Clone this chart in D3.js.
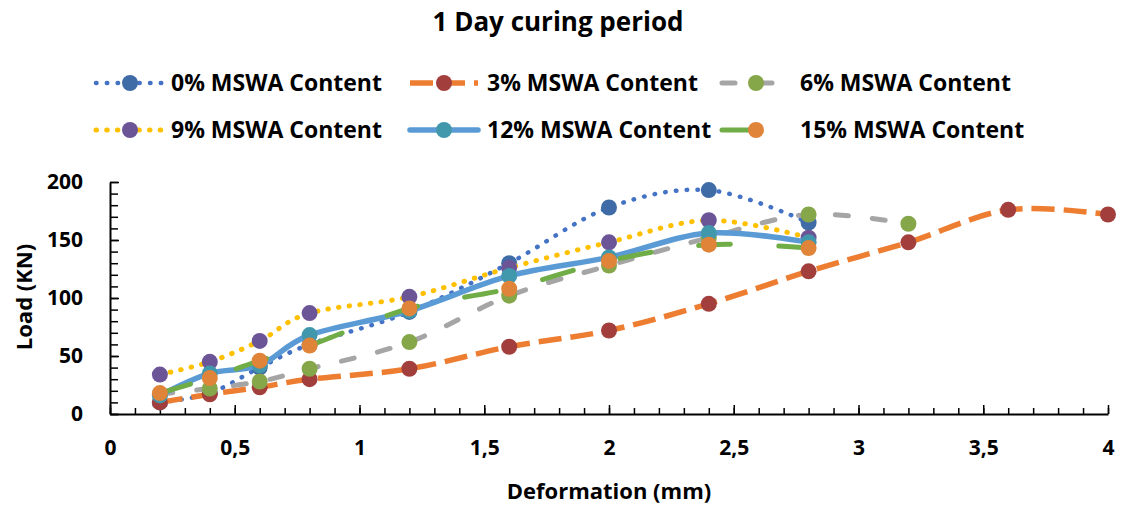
<!DOCTYPE html>
<html>
<head>
<meta charset="utf-8">
<script src="https://cdn.jsdelivr.net/npm/d3@7"></script>
<style>
  body { margin: 0; background: #ffffff; }
  svg text { font-family: "Open Sans", Lato, "Liberation Sans", sans-serif; font-weight: 700; fill: #000; }
</style>
</head>
<body>
<svg id="chart" width="1123" height="507"></svg>
<script>
// Deformation steps (mm) at which load was recorded
const deformation = [0.2, 0.4, 0.6, 0.8, 1.2, 1.6, 2.0, 2.4, 2.8, 3.2, 3.6, 4.0];

// Load (KN) for each MSWA content, 1 day curing
const load0  = [10, 18, 40, 60, 88, 130, 178, 193, 165];
const load3  = [10, 17, 23, 30, 39, 58, 72, 95, 123, 148, 176, 172];
const load6  = [17, 22, 28, 39, 62, 102, 128, 152, 172, 164];
const load9  = [34, 45, 63, 87, 101, 126, 148, 167, 152];
const load12 = [16, 35, 42, 68, 89, 119, 135, 156, 148];
const load15 = [18, 31, 46, 59, 91, 108, 132, 146, 143];

const seriesNames = ["0% MSWA Content", "3% MSWA Content", "6% MSWA Content",
                     "9% MSWA Content", "12% MSWA Content", "15% MSWA Content"];

const xTicks = [0, 0.5, 1, 1.5, 2, 2.5, 3, 3.5, 4];
const yTicks = [0, 50, 100, 150, 200];

const title = "1 Day curing period";
const xTitle = "Deformation (mm)";
const yTitle = "Load (KN)";

// Line styling per series
const styles = [
  { line: "#4472C4", marker: "#3F6CA6", width: 4.5, dash: "0.5 10.3", cap: "round" },
  { line: "#ED7D31", marker: "#A23F3D", width: 5.5, dash: "23 9",     cap: "butt"  },
  { line: "#A5A5A5", marker: "#86A64A", width: 5,   dash: "13 24",    cap: "round" },
  { line: "#FFC000", marker: "#6C5597", width: 5,   dash: "0.5 10.2", cap: "round" },
  { line: "#5B9BD5", marker: "#4197AC", width: 5.5, dash: null,       cap: "round" },
  { line: "#70AD47", marker: "#E08439", width: 5,   dash: "32 48",    cap: "round" }
];

const allLoads = [load0, load3, load6, load9, load12, load15];
const series = allLoads.map((vals, i) => ({
  name: seriesNames[i],
  points: vals.map((v, j) => ({ x: deformation[j], y: v })),
  style: styles[i]
}));

const svg = d3.select("#chart");

const x = d3.scaleLinear().domain([0, 4]).range([110, 1108]);
const y = d3.scaleLinear().domain([0, 200]).range([414, 182]);

// Title
svg.append("text")
  .attr("x", 558).attr("y", 31)
  .attr("text-anchor", "middle")
  .style("font-size", "26px")
  .text(title);

// Axes: minor ticks first, then major ticks with labels
const minorX = d3.range(0, 40.5, 1).map(d => d / 10);
const minorY = d3.range(0, 201, 10);

svg.append("g")
  .attr("transform", "translate(0,414)")
  .call(d3.axisBottom(x).tickValues(minorX).tickFormat("").tickSizeInner(-6).tickSizeOuter(0))
  .call(g => g.select(".domain").remove())
  .call(g => g.selectAll("line").attr("stroke", "#000").attr("stroke-width", 1.5));

svg.append("g")
  .attr("transform", "translate(110,0)")
  .call(d3.axisLeft(y).tickValues(minorY).tickFormat("").tickSizeInner(-8).tickSizeOuter(0))
  .call(g => g.select(".domain").remove())
  .call(g => g.selectAll("line").attr("stroke", "#000").attr("stroke-width", 1.5));

const xAxis = svg.append("g")
  .attr("transform", "translate(0,414)")
  .call(d3.axisBottom(x).tickValues(xTicks)
    .tickFormat(d => String(d).replace(".", ","))
    .tickSizeInner(-9).tickSizeOuter(0).tickPadding(26));
xAxis.select(".domain").attr("stroke", "#000").attr("stroke-width", 2);
xAxis.selectAll("line").attr("stroke", "#000").attr("stroke-width", 1.5);
xAxis.selectAll("text").style("font-size", "21px").style("font-family", null).attr("fill", "#000");

const yAxis = svg.append("g")
  .attr("transform", "translate(110,0)")
  .call(d3.axisLeft(y).tickValues(yTicks).tickSizeInner(-9).tickSizeOuter(0).tickPadding(27));
yAxis.select(".domain").attr("stroke", "#000").attr("stroke-width", 2);
yAxis.selectAll("line").attr("stroke", "#000").attr("stroke-width", 1.5);
yAxis.selectAll("text").style("font-size", "21px").style("font-family", null).attr("fill", "#000");

// Axis titles
svg.append("text")
  .attr("x", 609).attr("y", 499)
  .attr("text-anchor", "middle")
  .style("font-size", "22px")
  .text(xTitle);

svg.append("text")
  .attr("transform", "translate(32,297) rotate(-90)")
  .attr("text-anchor", "middle")
  .style("font-size", "22px")
  .text(yTitle);

// Series: smoothed lines, then markers, drawn in order
const line = d3.line()
  .x(d => x(d.x))
  .y(d => y(d.y))
  .curve(d3.curveCardinal.tension(0));

const plot = svg.append("g");
series.forEach(s => {
  const g = plot.append("g");
  g.append("path")
    .datum(s.points)
    .attr("d", line)
    .attr("fill", "none")
    .attr("stroke", s.style.line)
    .attr("stroke-width", s.style.width)
    .attr("stroke-linecap", s.style.cap)
    .attr("stroke-linejoin", "round")
    .attr("stroke-dasharray", s.style.dash);
  g.selectAll("circle")
    .data(s.points)
    .join("circle")
    .attr("cx", d => x(d.x))
    .attr("cy", d => y(d.y))
    .attr("r", 8)
    .attr("fill", s.style.marker);
});

// Legend: two rows of three
const legendCols = [96, 410, 722];
const legendRows = [83, 130];
const legend = svg.append("g");
series.forEach((s, i) => {
  const lx = legendCols[i % 3];
  const ly = legendRows[Math.floor(i / 3)];
  const g = legend.append("g").attr("transform", `translate(${lx},${ly})`);
  g.append("line")
    .attr("x1", 0).attr("x2", 68).attr("y1", 0).attr("y2", 0)
    .attr("stroke", s.style.line)
    .attr("stroke-width", s.style.width)
    .attr("stroke-linecap", s.style.cap)
    .attr("stroke-dasharray", s.style.dash);
  g.append("circle").attr("cx", 34).attr("cy", 0).attr("r", 8).attr("fill", s.style.marker);
  g.append("text")
    .attr("x", i % 3 === 0 ? 75 : (i % 3 === 1 ? 77 : 78))
    .attr("y", 8)
    .style("font-size", "23px")
    .text(s.name);
});
</script>
</body>
</html>
